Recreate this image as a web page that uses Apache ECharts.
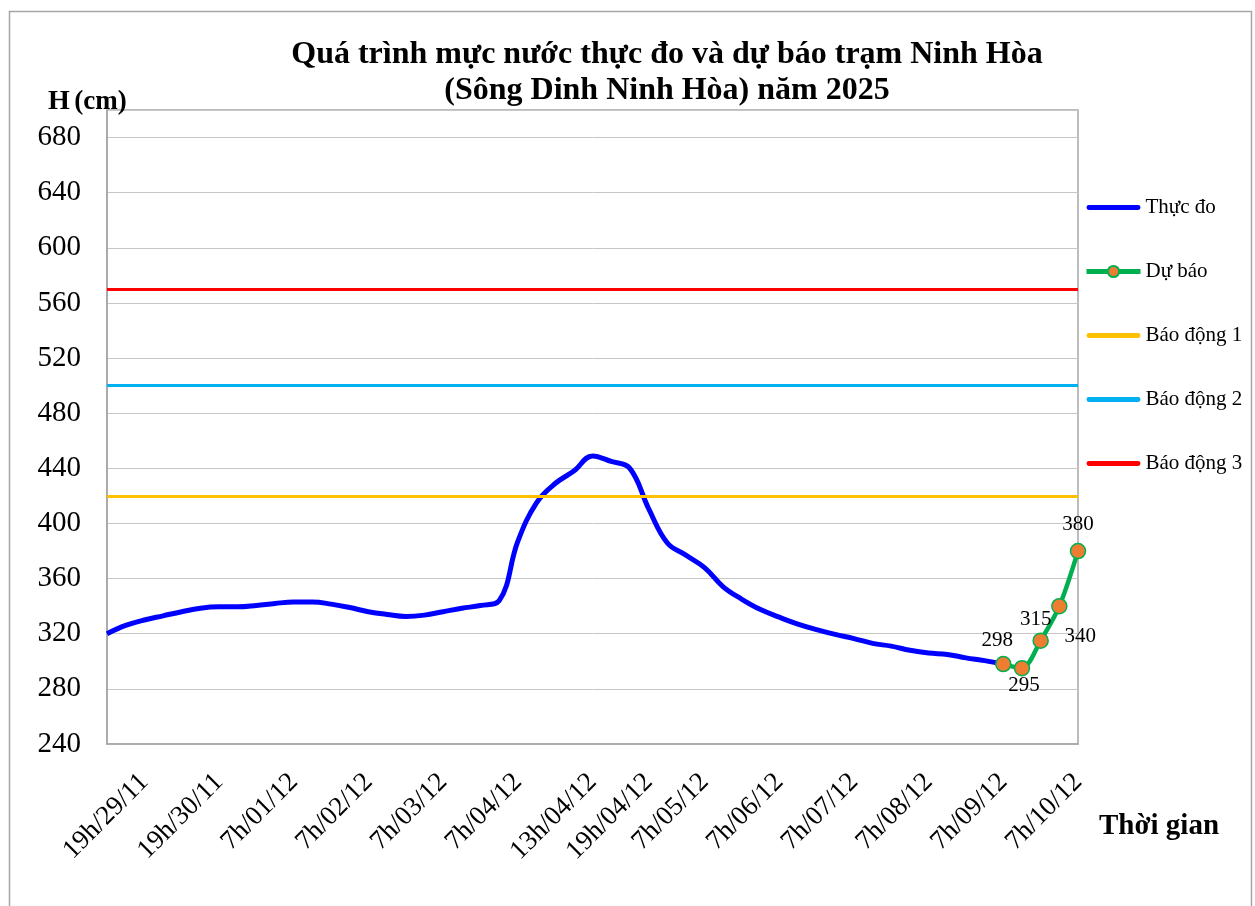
<!DOCTYPE html>
<html>
<head>
<meta charset="utf-8">
<script src="https://cdn.jsdelivr.net/npm/echarts@6/dist/echarts.min.js"></script>
<style>html,body{margin:0;padding:0;background:#fff;}#main{width:1255px;height:906px;}</style>
</head>
<body>
<div id="main"></div>
<script>
// ---- data ----
const categories = [
  '13h/29/11','16h/29/11','19h/29/11','1h/30/11','7h/30/11','13h/30/11','19h/30/11','22h/30/11',
  '1h/01/12','4h/01/12','7h/01/12','13h/01/12','19h/01/12','1h/02/12','7h/02/12','13h/02/12',
  '19h/02/12','1h/03/12','7h/03/12','13h/03/12','19h/03/12','1h/04/12','7h/04/12','9h/04/12',
  '10h/04/12','11h/04/12','13h/04/12','15h/04/12','17h/04/12','19h/04/12','23h/04/12','3h/05/12',
  '7h/05/12','13h/05/12','19h/05/12','1h/06/12','7h/06/12','13h/06/12','19h/06/12','1h/07/12',
  '7h/07/12','13h/07/12','19h/07/12','1h/08/12','7h/08/12','13h/08/12','19h/08/12','1h/09/12',
  '7h/09/12','13h/09/12','19h/09/12','1h/10/12','7h/10/12'
];
const tickLabels = ['19h/29/11','19h/30/11','7h/01/12','7h/02/12','7h/03/12','7h/04/12','13h/04/12',
  '19h/04/12','7h/05/12','7h/06/12','7h/07/12','7h/08/12','7h/09/12','7h/10/12'];
const observed = [
  320, 326, 330, 333, 336, 338.5, 339.5, 339.5, 340.5, 342, 343, 343, 341.5, 339, 336, 334,
  332.5, 333.5, 336, 338.5, 340.5, 344, 387, 415, 429, 438, 449, 445, 440, 411, 386, 377,
  368, 354, 345, 337.5, 332, 327, 323, 319.5, 316.5, 313, 311, 308, 306, 305, 302.5, 300.5, 298
];
const forecastTimes = ['7h/09/12','13h/09/12','19h/09/12','1h/10/12','7h/10/12'];
const forecast = [298, 295, 315, 340, 380];
const alarm1 = 420, alarm2 = 500, alarm3 = 570;
const yTicks = { min: 240, max: 700, step: 40 };

// ---- styles (kept separate from data) ----
const serif = "'Liberation Serif','Times New Roman',serif";
const fcLabelStyle = [
  { position: 'top', offset: [-6, 0] },
  { position: 'bottom', offset: [2, -6] },
  { position: 'top', offset: [-5, 3] },
  { position: 'bottom', offset: [21, 7] },
  { position: 'top', offset: [0, -3] }
];
const lineIcon = 'path://M2,0L52,0A2.5,2.5,0,0,1,52,5L2,5A2.5,2.5,0,0,1,2,0Z';

const chart = echarts.init(document.getElementById('main'), null, { renderer: 'canvas' });
const option = {
  animation: false,
  backgroundColor: '#fff',
  textStyle: { fontFamily: serif },
  graphic: [{
    type: 'rect', left: 7, top: 9, silent: true,
    shape: { width: 1242, height: 905 },
    style: { fill: 'none', stroke: '#a6a6a6', lineWidth: 1.5 }
  }],
  title: [
    {
      text: 'Quá trình mực nước thực đo và dự báo trạm Ninh Hòa\n(Sông Dinh Ninh Hòa) năm 2025',
      left: 662, top: 32, textAlign: 'center',
      textStyle: { fontFamily: serif, fontWeight: 'bold', fontSize: 32, lineHeight: 36, color: '#000' }
    },
    {
      text: '{b|H} {n|(cm)}', left: 43, top: 83,
      textStyle: { rich: {
        b: { fontFamily: serif, fontWeight: 'bold', fontSize: 28, color: '#000' },
        n: { fontFamily: serif, fontSize: 27, color: '#000' }
      } }
    },
    {
      text: 'Thời gian', left: 1094, top: 807,
      textStyle: { fontFamily: serif, fontWeight: 'bold', fontSize: 29, color: '#000' }
    }
  ],
  legend: {
    orient: 'vertical', left: 1084, top: 197, itemGap: 43, padding: 0,
    itemWidth: 54, itemHeight: 14,
    textStyle: { fontFamily: serif, fontSize: 21, color: '#000' },
    data: [
      { name: 'Thực đo', icon: lineIcon },
      { name: 'Dự báo', lineStyle: { width: 5 } },
      { name: 'Báo động 1', icon: lineIcon },
      { name: 'Báo động 2', icon: lineIcon },
      { name: 'Báo động 3', icon: lineIcon }
    ]
  },
  grid: {
    left: 107, top: 110, right: 177, bottom: 162,
    show: true, borderColor: '#a6a6a6', borderWidth: 1.5
  },
  xAxis: {
    type: 'category', data: categories, boundaryGap: false,
    axisLine: { show: true, lineStyle: { color: '#a6a6a6', width: 1.5 } },
    axisTick: { show: false },
    splitLine: { show: false },
    axisLabel: {
      rotate: 45, margin: 34, fontFamily: serif, fontSize: 27, color: '#000',
      interval: (idx, val) => tickLabels.includes(val)
    }
  },
  yAxis: {
    type: 'value', min: yTicks.min, max: yTicks.max, interval: yTicks.step,
    axisLine: { show: true, lineStyle: { color: '#a6a6a6', width: 1.5 } },
    axisTick: { show: false },
    splitLine: { lineStyle: { color: '#c6c6c6', width: 1 } },
    axisLabel: {
      fontFamily: serif, fontSize: 29, color: '#000', margin: 26,
      formatter: v => (v === yTicks.max ? '' : String(v))
    }
  },
  series: [
    {
      name: 'Thực đo', type: 'line', data: observed, smooth: 0.4, symbol: 'none',
      lineStyle: { color: '#0000ff', width: 5 }, itemStyle: { color: '#0000ff' }, z: 3
    },
    {
      name: 'Dự báo', type: 'line', smooth: 0.3,
      data: forecast.map((v, k) => ({
        value: [forecastTimes[k], v],
        label: { show: true, position: fcLabelStyle[k].position, offset: fcLabelStyle[k].offset }
      })),
      symbol: 'circle', symbolSize: 15, showAllSymbol: true,
      lineStyle: { color: '#00b050', width: 4.5 },
      itemStyle: { color: '#ed7d31', borderColor: '#00b050', borderWidth: 1.5 },
      label: { fontFamily: serif, fontSize: 21, color: '#000', formatter: p => p.value[1] },
      z: 4
    },
    {
      name: 'Báo động 1', type: 'line', data: [], symbol: 'none',
      lineStyle: { color: '#ffc000', width: 3 }, itemStyle: { color: '#ffc000' },
      markLine: { silent: true, symbol: 'none', label: { show: false },
        lineStyle: { color: '#ffc000', width: 3, type: 'solid' }, data: [{ yAxis: alarm1 }] }, z: 5
    },
    {
      name: 'Báo động 2', type: 'line', data: [], symbol: 'none',
      lineStyle: { color: '#00b0f0', width: 3 }, itemStyle: { color: '#00b0f0' },
      markLine: { silent: true, symbol: 'none', label: { show: false },
        lineStyle: { color: '#00b0f0', width: 3, type: 'solid' }, data: [{ yAxis: alarm2 }] }, z: 5
    },
    {
      name: 'Báo động 3', type: 'line', data: [], symbol: 'none',
      lineStyle: { color: '#ff0000', width: 3 }, itemStyle: { color: '#ff0000' },
      markLine: { silent: true, symbol: 'none', label: { show: false },
        lineStyle: { color: '#ff0000', width: 3, type: 'solid' }, data: [{ yAxis: alarm3 }] }, z: 5
    }
  ]
};
chart.setOption(option);
</script>
</body>
</html>
